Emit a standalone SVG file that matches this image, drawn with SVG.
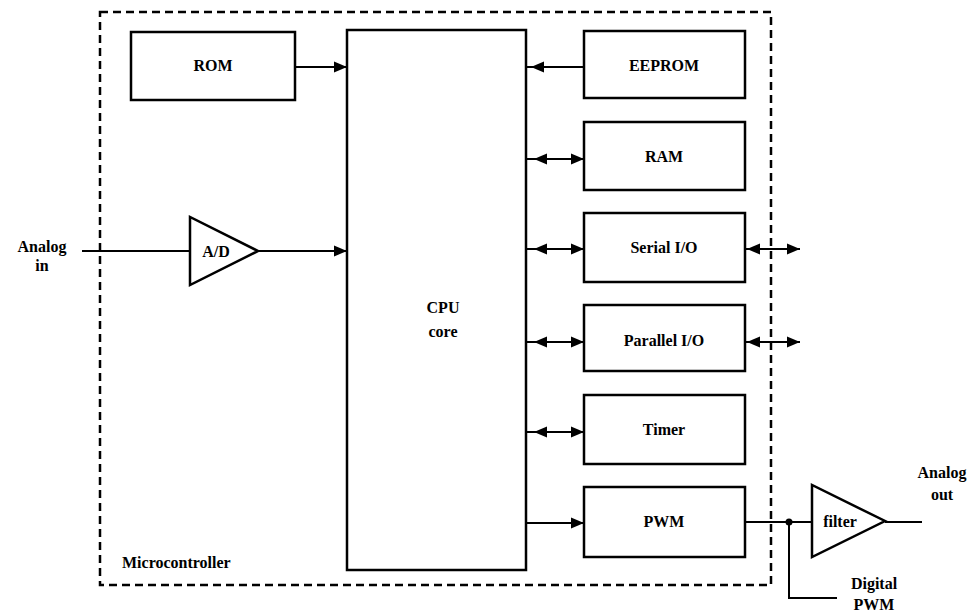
<svg xmlns="http://www.w3.org/2000/svg" width="972" height="615" viewBox="0 0 972 615">
<style>
.box{fill:#fff;stroke:#000;stroke-width:2.5}
.tri{fill:#fff;stroke:#000;stroke-width:2.5;stroke-linejoin:miter}
.ln{fill:none;stroke:#000;stroke-width:2}
.border{fill:none;stroke:#000;stroke-width:2.5;stroke-dasharray:8 5}
text{font-family:"Liberation Serif","Times New Roman",serif;font-weight:bold;font-size:16px;fill:#000;text-anchor:middle}
</style>
<defs>
<path id="hr" d="M0,0 L-13,-5.5 L-13,5.5 Z" fill="#000"/>
<path id="hl" d="M0,0 L13,-5.5 L13,5.5 Z" fill="#000"/>
</defs>
<rect id="microcontroller" class="border" x="100" y="12" width="671" height="573"/>
<text x="122" y="568" style="text-anchor:start">Microcontroller</text>
<g id="connectors">
<line class="ln" x1="295" y1="67" x2="347" y2="67"/><use href="#hr" x="347" y="67"/>
<line class="ln" x1="82" y1="251" x2="190" y2="251"/>
<line class="ln" x1="258" y1="251" x2="347" y2="251"/><use href="#hr" x="347" y="251"/>
<line class="ln" x1="526" y1="67" x2="584" y2="67"/><use href="#hl" x="531" y="67"/>
<line class="ln" x1="526" y1="159" x2="584" y2="159"/><use href="#hl" x="534" y="159"/><use href="#hr" x="584" y="159"/>
<line class="ln" x1="526" y1="249" x2="584" y2="249"/><use href="#hl" x="534" y="249"/><use href="#hr" x="584" y="249"/>
<line class="ln" x1="526" y1="342" x2="584" y2="342"/><use href="#hl" x="534" y="342"/><use href="#hr" x="584" y="342"/>
<line class="ln" x1="526" y1="432" x2="584" y2="432"/><use href="#hl" x="534" y="432"/><use href="#hr" x="584" y="432"/>
<line class="ln" x1="526" y1="523" x2="584" y2="523"/><use href="#hr" x="584" y="523"/>
<line class="ln" x1="745" y1="249" x2="800" y2="249"/><use href="#hl" x="747" y="249"/><use href="#hr" x="800" y="249"/>
<line class="ln" x1="745" y1="342" x2="800" y2="342"/><use href="#hl" x="747" y="342"/><use href="#hr" x="800" y="342"/>
<line class="ln" x1="745" y1="522" x2="812" y2="522"/>
<circle cx="789" cy="522" r="3.5" fill="#000"/>
<polyline class="ln" points="789,522 789,598 837,598"/>
<line class="ln" x1="885" y1="522" x2="922" y2="522"/>
</g>
<g id="rom"><rect class="box" x="131" y="32" width="164" height="68"/><text x="213" y="71">ROM</text></g>
<g id="cpu"><rect class="box" x="347" y="30" width="179" height="540"/><text x="443" y="313">CPU</text><text x="443" y="337">core</text></g>
<g id="ad"><polygon class="tri" points="190,217 190,285 258,251"/><text x="216" y="257">A/D</text></g>
<g id="eeprom"><rect class="box" x="584" y="31" width="161" height="67"/><text x="664" y="71">EEPROM</text></g>
<g id="ram"><rect class="box" x="584" y="122" width="161" height="68"/><text x="664" y="162">RAM</text></g>
<g id="serial"><rect class="box" x="584" y="213" width="161" height="69"/><text x="664" y="253">Serial I/O</text></g>
<g id="parallel"><rect class="box" x="584" y="305" width="161" height="66"/><text x="664" y="346">Parallel I/O</text></g>
<g id="timer"><rect class="box" x="584" y="395" width="161" height="69"/><text x="664" y="435">Timer</text></g>
<g id="pwm"><rect class="box" x="584" y="487" width="161" height="70"/><text x="664" y="527">PWM</text></g>
<g id="filter"><polygon class="tri" points="812,485 812,557 885,521"/><text x="840" y="527">filter</text></g>
<g id="analog-in"><text x="42" y="252">Analog</text><text x="42" y="271">in</text></g>
<g id="analog-out"><text x="942" y="478">Analog</text><text x="942" y="500">out</text></g>
<g id="digital-pwm"><text x="874" y="589">Digital</text><text x="874" y="610">PWM</text></g>
</svg>
